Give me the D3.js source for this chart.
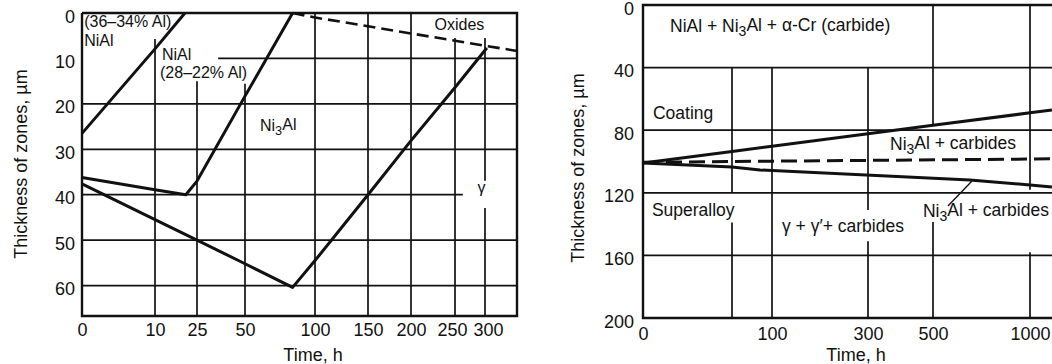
<!DOCTYPE html>
<html lang="en">
<head>
<meta charset="UTF-8">
<title>Thickness of zones vs time</title>
<script src="https://d3js.org/d3.v7.min.js"></script>
<style>
  body { margin: 0; background: #fff; }
  svg { display: block; font-family: "Liberation Sans", Arial, sans-serif; }
  .tick text { font-size: 18px; fill: #111; }
  .lbl { fill: #111; }
  .title { font-size: 18px; fill: #111; }
</style>
</head>
<body>
<svg width="1052" height="364"></svg>
<script>
// ---------- left panel (non-linear time axis)
const leftTimeTicks = [0, 10, 25, 50, 100, 150, 200, 250, 300];
const leftDepthTicks = [0, 10, 20, 30, 40, 50, 60];
const leftNiAlHigh = [[0, 26.5], [10, 7.9], [20.7, 0]];
const leftNiAlLow = [[0, 36.2], [10, 38.9], [21, 40], [25, 37], [50, 18.3], [84, 0]];
const leftGamma = [[0, 37.6], [10, 45.5], [25, 50], [50, 55.2], [84, 60.4], [100, 54.5],
                   [150, 40], [200, 28.1], [250, 16.4], [300, 8.2], [303, 7.7]];
const leftOxides = [[84, 0], [100, 1.0], [150, 2.9], [200, 4.5], [250, 6.1], [300, 7.2], [350, 8.35]];
// grid pieces: [value, from, to]
const leftVGrid = [[10, 5.7, 66.7], [25, 15, 66.7], [50, 15.6, 66.7], [100, 0, 66.7], [150, 0, 66.7],
                   [200, 0, 66.7], [250, 5.5, 66.7], [300, 5.5, 36.9], [300, 42.9, 66.7]];
const leftHGrid = [[10, 36, 350], [20, 0, 350], [30, 0, 350], [40, 0, 263], [50, 0, 350], [60, 0, 350]];
const leftLabels = [
  {t: "(36–34% Al)", x: 0.3, y: 3.1},
  {t: "NiAl", x: 0.3, y: 7.3},
  {t: "NiAl", x: 12.5, y: 10.4},
  {t: "(28–22% Al)", x: 11.8, y: 14.3},
  {t: "Ni|3|Al", x: 60.7, y: 26},
  {t: "Oxides", x: 226.7, y: 3.7},
  {t: "γ", x: 294, y: 39.6}
];

// ---------- right panel
const rightTimeTicks = [0, 100, 300, 500, 1000];
const rightDepthTicks = [0, 40, 80, 120, 160, 200];
const rightCoatingTop = [[0, 101], [50, 93.6], [100, 90.3], [300, 82.3], [500, 76.9], [1000, 68.9], [1073, 67.1]];
const rightDashed = [[0, 100.5], [1073, 98.3]];
const rightCoatingLow = [[0, 101], [50, 103.5], [85, 105.4], [690, 111.8], [1000, 115], [1073, 116.3]];
const rightLeader = [[701, 112.5], [577, 128.4]];
const rightVGrid = [[50, 40, 120], [50, 139, 200], [100, 40, 200], [300, 40, 131], [300, 151, 200],
                    [500, 0, 76.7], [500, 138.7, 200], [1000, 0, 118], [1000, 158, 200]];
const rightHGrid = [[40, 0, 1100], [80, 0, 1100], [120, 0, 1100], [160, 0, 1100]];
const rightLabels = [
  {t: "NiAl + Ni|3|Al + α-Cr (carbide)", x: 15.2, y: 17.3},
  {t: "Coating", x: 5.6, y: 72.8},
  {t: "Ni|3|Al + carbides", x: 367.7, y: 92.7},
  {t: "Superalloy", x: 5, y: 134.8},
  {t: "γ + γ′+ carbides", x: 120.8, y: 145},
  {t: "Ni|3|Al + carbides", x: 469, y: 135.5}
];

const svg = d3.select("svg");
const ink = "#111";

// scales
const xL = d3.scaleLinear()
  .domain([0, 10, 25, 50, 100, 150, 200, 250, 300, 350])
  .range([82, 155, 197, 245, 315, 368, 411, 455, 485, 517]);
const yL = d3.scaleLinear().domain([0, 66.7]).range([13, 316]);
const xR = d3.scaleLinear()
  .domain([0, 50, 100, 300, 500, 1000, 1100])
  .range([643, 732, 772, 868, 933, 1030, 1060]);
const yR = d3.scaleLinear().domain([0, 200]).range([5, 318]);

function panel(x, y, o) {
  const g = svg.append("g");
  // grid
  g.selectAll(".vg").data(o.vgrid).join("line")
    .attr("x1", d => x(d[0])).attr("x2", d => x(d[0]))
    .attr("y1", d => y(d[1])).attr("y2", d => y(d[2]))
    .attr("stroke", ink).attr("stroke-width", 1.7);
  g.selectAll(".hg").data(o.hgrid).join("line")
    .attr("y1", d => y(d[0])).attr("y2", d => y(d[0]))
    .attr("x1", d => x(d[1])).attr("x2", d => x(d[2]))
    .attr("stroke", ink).attr("stroke-width", 1.7);

  // frame
  const [x0, x1] = [x.domain()[0], x.domain()[x.domain().length - 1]];
  const [y0, y1] = y.domain();
  const frame = o.openRight
    ? [[x1, y0], [x0, y0], [x0, y1], [x1, y1]]
    : [[x0, y0], [x1, y0], [x1, y1], [x0, y1], [x0, y0]];
  g.append("path")
    .attr("d", d3.line().x(d => x(d[0])).y(d => y(d[1]))(frame))
    .attr("fill", "none").attr("stroke", ink).attr("stroke-width", 2.4);

  // curves
  const line = d3.line().x(d => x(d[0])).y(d => y(d[1]));
  o.curves.forEach(c => {
    g.append("path").attr("d", line(c.data))
      .attr("fill", "none").attr("stroke", ink)
      .attr("stroke-width", c.w).attr("stroke-dasharray", c.dash || null)
      .attr("stroke-linejoin", "round");
  });

  // axes
  const ax = g.append("g").attr("transform", `translate(0,${y(y1)})`)
    .call(d3.axisBottom(x).tickValues(o.xticks).tickSize(0).tickPadding(o.padX).tickFormat(d3.format("d")));
  ax.select(".domain").remove();
  // crowded last pair of labels on the left panel sits a little apart
  ax.selectAll("text").attr("dx", d => (o.nudge && o.nudge[d]) || 0);
  const ay = g.append("g").attr("transform", `translate(${x(x0)},0)`)
    .call(d3.axisLeft(y).tickValues(o.yticks).tickSize(0).tickPadding(o.padY).tickFormat(d3.format("d")));
  ay.select(".domain").remove();
  ay.selectAll("text").attr("dy", "0.5em");

  // labels (a "|" marks a subscript part)
  o.labels.forEach(l => {
    const t = g.append("text").attr("class", "lbl")
      .attr("x", x(l.x)).attr("y", y(l.y))
      .attr("font-size", o.labelSize)
      .attr("text-anchor", l.t === "γ" ? "middle" : "start");
    l.t.split("|").forEach((s, i) => {
      const sp = t.append("tspan").text(s);
      if (i % 2 === 1) sp.attr("dy", "0.3em").attr("font-size", o.labelSize * 0.8);
      else if (i > 0) sp.attr("dy", "-0.3em");
    });
  });

  // titles
  g.append("text").attr("class", "title")
    .attr("text-anchor", "middle")
    .attr("transform", `translate(${o.ytitleX},${o.ytitleY}) rotate(-90)`)
    .text("Thickness of zones, µm");
  g.append("text").attr("class", "title")
    .attr("text-anchor", "middle")
    .attr("x", o.xtitleX).attr("y", 361)
    .text("Time, h");
}

panel(xL, yL, {
  vgrid: leftVGrid, hgrid: leftHGrid,
  curves: [
    {data: leftNiAlHigh, w: 3},
    {data: leftNiAlLow, w: 3},
    {data: leftGamma, w: 3},
    {data: leftOxides, w: 2.6, dash: "12,6"}
  ],
  xticks: leftTimeTicks, yticks: leftDepthTicks, padX: 7, padY: 7,
  nudge: {250: -3, 300: 3},
  labels: leftLabels, labelSize: 16,
  ytitleX: 27, ytitleY: 164, xtitleX: 313
});

panel(xR, yR, {
  vgrid: rightVGrid, hgrid: rightHGrid, openRight: true,
  curves: [
    {data: rightCoatingTop, w: 3},
    {data: rightDashed, w: 3, dash: "16,7"},
    {data: rightCoatingLow, w: 3},
    {data: rightLeader, w: 1.4}
  ],
  xticks: rightTimeTicks, yticks: rightDepthTicks, padX: 9, padY: 9,
  labels: rightLabels, labelSize: 17.5,
  ytitleX: 584, ytitleY: 168, xtitleX: 856
});
</script>
</body>
</html>
